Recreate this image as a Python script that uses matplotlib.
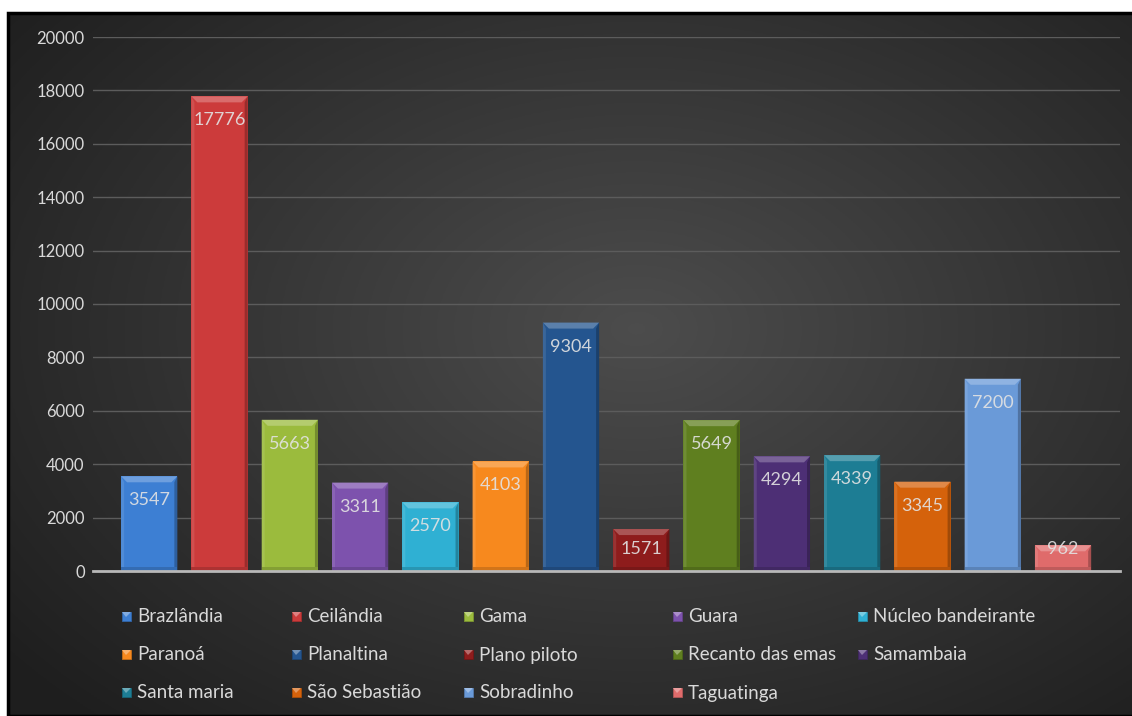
import matplotlib
matplotlib.use('Agg')
import matplotlib.pyplot as plt
from matplotlib.patches import Polygon, Rectangle
import numpy as np

# Data
regions = ['Brazlândia', 'Ceilândia', 'Gama', 'Guara', 'Núcleo bandeirante',
           'Paranoá', 'Planaltina', 'Plano piloto', 'Recanto das emas', 'Samambaia',
           'Santa maria', 'São Sebastião', 'Sobradinho', 'Taguatinga']
counts = [3547, 17776, 5663, 3311, 2570, 4103, 9304, 1571, 5649, 4294, 4339, 3345, 7200, 962]
colors = ['#3d7fd3', '#cc3b3b', '#9bbb3d', '#7d52ad', '#2fb0d3',
          '#f7891e', '#24558f', '#8e1c1c', '#5f7f1f', '#4d2f75',
          '#1d7d94', '#d5620b', '#6a9ad8', '#df6b6b']
yticks = list(range(0, 20001, 2000))

W, H = 1132, 716
TXT = '#d9d9d9'
plt.rcParams['font.family'] = ['Lato', 'DejaVu Sans']


def shade(c, f):
    rgb = np.array(matplotlib.colors.to_rgb(c))
    if f >= 0:
        rgb = rgb + (1 - rgb) * f
    else:
        rgb = rgb * (1 + f)
    return tuple(np.clip(rgb, 0, 1))


def fx(px):
    return px / W


def fy(py):
    return 1 - py / H


fig = plt.figure(figsize=(W / 100, H / 100), dpi=100)
fig.patch.set_facecolor('white')

# dark radial background of the chart area
bg = fig.add_axes([fx(7), 0, 1 - fx(7), fy(12)])
gx, gy = np.meshgrid(np.linspace(0, 1, 400), np.linspace(0, 1, 300))
r = np.sqrt(((gx - 0.56) / 0.75) ** 2 + ((gy - 0.45) / 0.8) ** 2)
val = np.clip(0.30 - 0.19 * r, 0.12, 0.30)
bg.imshow(np.dstack([val, val, val]), aspect='auto', extent=[0, 1, 0, 1], origin='upper')
bg.set_xlim(0, 1)
bg.set_ylim(0, 1)
bg.axis('off')
fig.add_artist(Rectangle((fx(8), 0), 1.2, fy(13), fill=False, edgecolor='black',
                         linewidth=2.5, transform=fig.transFigure))

ax = fig.add_axes([fx(93), fy(571), fx(1120) - fx(93), fy(37) - fy(571)])
ax.patch.set_alpha(0)
x = np.arange(len(regions))
ax.set_xlim(-0.8, 13.81)
ax.set_ylim(0, 20000)

bars = ax.bar(x, counts, width=0.8, color=colors, zorder=3)

# pixel -> data factors for the bevel effect
ppx = (fx(1120) - fx(93)) * W / 14.61
ppy = (fy(37) - fy(571)) * H / 20000
for b, c in zip(bars, colors):
    x0, w, h = b.get_x(), b.get_width(), b.get_height()
    x1 = x0 + w
    bx, by = 6 / ppx, 6 / ppy
    ax.add_patch(Polygon([(x0, h), (x1, h), (x1 - bx, h - by), (x0 + bx, h - by)],
                         closed=True, facecolor=shade(c, 0.25), edgecolor='none', zorder=4))
    ax.add_patch(Polygon([(x0, 0), (x0, h), (x0 + 3 / ppx, h - by), (x0 + 3 / ppx, 0)],
                         closed=True, facecolor=shade(c, 0.1), edgecolor='none', zorder=4))
    ax.add_patch(Polygon([(x1, 0), (x1, h), (x1 - 3 / ppx, h - by), (x1 - 3 / ppx, 0)],
                         closed=True, facecolor=shade(c, -0.25), edgecolor='none', zorder=4))
    ax.add_patch(Rectangle((x0, 0), w, 4 / ppy, facecolor=shade(c, -0.15),
                           edgecolor='none', zorder=4))
    ly = max(h - 24 / ppy, 22 / ppy)
    ax.text(x0 + w / 2, ly, f'{h:.0f}', ha='center', va='center', color='#e3e3e3',
            alpha=0.9, fontsize=13, zorder=5)

ax.set_yticks(yticks)
ax.set_yticklabels([str(t) for t in yticks], color=TXT, fontsize=12)
ax.tick_params(axis='y', length=0, pad=6)
ax.set_xticks([])
ax.grid(axis='y', color='#5c5c5c', linewidth=1, zorder=1)
for s in ['top', 'right', 'left']:
    ax.spines[s].set_visible(False)
ax.spines['bottom'].set_color('#b8b8b8')
ax.spines['bottom'].set_linewidth(2)
ax.spines['bottom'].set_zorder(6)

# legend, laid out like the original: 5 columns, row by row
col_x = [126, 296, 468, 677, 862]
row_y = [617, 655, 693]
for i, (name, c) in enumerate(zip(regions, colors)):
    px, py = col_x[i % 5], row_y[i // 5]
    fig.add_artist(Rectangle((fx(px - 4), fy(py + 4)), fx(9), 9 / H, facecolor=c,
                             edgecolor=shade(c, -0.2), linewidth=0.6,
                             transform=fig.transFigure))
    fig.add_artist(Polygon([(fx(px - 4), fy(py - 5)), (fx(px + 5), fy(py - 5)),
                            (fx(px), fy(py))], closed=True, facecolor=shade(c, 0.35),
                           edgecolor='none', transform=fig.transFigure))
    fig.text(fx(px + 11), fy(py), name, color=TXT, fontsize=13.5, va='center', ha='left')

fig.savefig('out.png', dpi=100)
